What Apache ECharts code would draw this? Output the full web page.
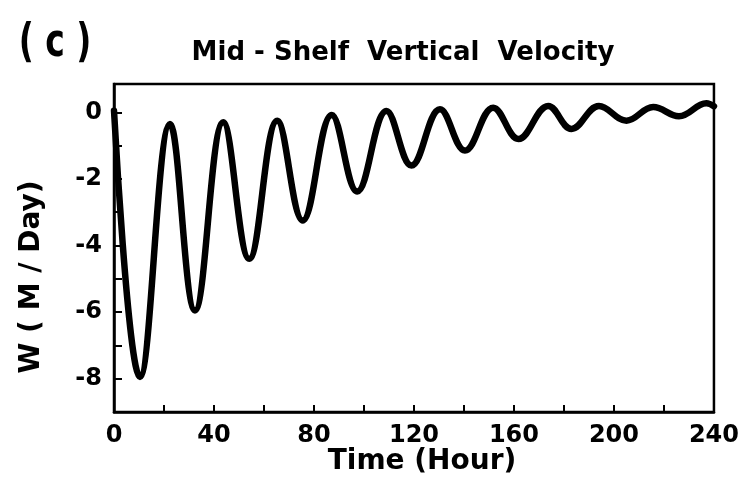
<!DOCTYPE html>
<html><head><meta charset="utf-8">
<script src="https://cdn.jsdelivr.net/npm/echarts@6/dist/echarts.min.js"></script>
<style>html,body{margin:0;padding:0;background:#fff}#c{width:742px;height:480px}</style>
</head><body><div id="c"></div>
<script>
// Time (hour) at the start, the turning points and the end of the curve
const hours = [0, 10.4, 22.4, 32.4, 43.7, 54.1, 65.3, 75.5, 87.1, 97.3, 109, 119, 130.4, 140.4, 151.7, 161.8, 173.7, 183, 194, 205, 215.7, 226, 237, 240];
// W (M / Day)
const w = [0.05, -7.95, -0.35, -5.95, -0.3, -4.4, -0.25, -3.25, -0.08, -2.38, 0.04, -1.6, 0.09, -1.15, 0.14, -0.8, 0.19, -0.5, 0.19, -0.25, 0.16, -0.12, 0.27, 0.18];
const xTickLabels = [0, 40, 80, 120, 160, 200, 240];
const yTickLabels = [0, -2, -4, -6, -8];
const titleText = 'Mid - Shelf  Vertical  Velocity';
const panelText = '( c )';
const xName = 'Time (Hour)';
const yName = 'W ( M / Day)';

const FONT = '"DejaVu Sans", "Liberation Sans", sans-serif';
const chart = echarts.init(document.getElementById('c'), null, {renderer: 'canvas'});
chart.setOption({
  animation: false,
  backgroundColor: '#fff',
  grid: {left: 114, right: 27, top: 84, bottom: 68, show: true, borderColor: '#000', borderWidth: 2.5, backgroundColor: 'transparent'},
  xAxis: {
    type: 'value', min: 0, max: 240, interval: 20,
    axisLine: {show: true, onZero: false, lineStyle: {color: '#000', width: 2.5}},
    axisTick: {show: true, inside: true, length: 7, lineStyle: {color: '#000', width: 2}},
    splitLine: {show: false},
    axisLabel: {
      margin: 12, color: '#000', fontFamily: FONT, fontWeight: 'bold', fontSize: 24,
      formatter: v => xTickLabels.includes(Math.round(v)) && Math.abs(v - Math.round(v)) < 1e-6 ? String(Math.round(v)) : ''
    }
  },
  yAxis: {
    type: 'value', min: -9, max: 0.85, interval: 1,
    axisLine: {show: true, onZero: false, lineStyle: {color: '#000', width: 2.5}},
    axisTick: {show: true, inside: true, length: 8, lineStyle: {color: '#000', width: 2}},
    splitLine: {show: false},
    axisLabel: {
      margin: 12, color: '#000', fontFamily: FONT, fontWeight: 'bold', fontSize: 24,
      formatter: v => (Math.abs(v - Math.round(v)) < 1e-6 && yTickLabels.includes(Math.round(v))) ? (Math.round(v) === 0 ? '0' : '-' + Math.abs(Math.round(v))) : ''
    }
  },
  graphic: [
    {type: 'text', x: 55, y: 44, scaleY: 1.4, style: {text: panelText, font: 'bold 33px ' + FONT, fill: '#000', textAlign: 'center', textVerticalAlign: 'middle'}},
    {type: 'text', x: 403, y: 53, style: {text: titleText, font: 'bold 26px ' + FONT, fill: '#000', textAlign: 'center', textVerticalAlign: 'middle'}},
    {type: 'text', x: 422, y: 462, style: {text: xName, font: 'bold 28px ' + FONT, fill: '#000', textAlign: 'center', textVerticalAlign: 'middle'}},
    {type: 'text', x: 32, y: 277, rotation: Math.PI / 2, style: {text: yName, font: 'bold 28px ' + FONT, fill: '#000', textAlign: 'center', textVerticalAlign: 'middle'}}
  ],
  series: [{
    type: 'line', data: hours.map((h, i) => [h, w[i]]),
    smooth: 0.4, showSymbol: false, symbol: 'none',
    lineStyle: {color: '#000', width: 6.5, cap: 'round', join: 'round'}
  }]
});
</script></body></html>
